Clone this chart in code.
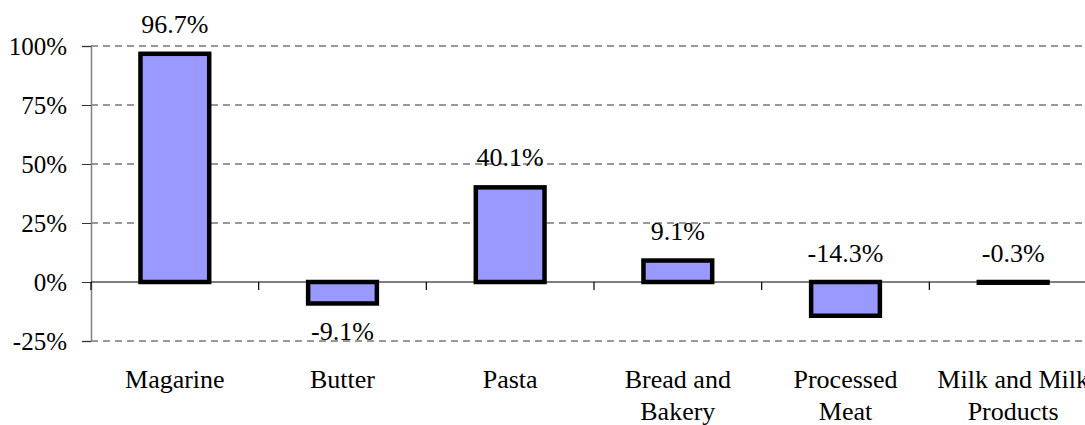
<!DOCTYPE html>
<html>
<head>
<meta charset="utf-8">
<script src="https://cdn.jsdelivr.net/npm/d3@7"></script>
<style>
  body { margin: 0; background: #fff; }
  svg { display: block; }
</style>
</head>
<body>
<div class="chart"></div>
<script>
// chart data
const categories = [
  ["Magarine"],
  ["Butter"],
  ["Pasta"],
  ["Bread and", "Bakery"],
  ["Processed", "Meat"],
  ["Milk and Milk", "Products"],
];
const values = [96.7, -9.1, 40.1, 9.1, -14.3, -0.3];
const labelSide = ["end", "end", "end", "end", "zero", "zero"];
const yTicks = [-25, 0, 25, 50, 75, 100];

const width = 1085;
const height = 425;
const margin = { top: 46, right: -12, bottom: 84, left: 91 };
const font = "'Liberation Serif'";
const fontSize = "26px";

const svg = d3
  .select(".chart")
  .append("svg")
  .attr("width", width)
  .attr("height", height);

const x = d3
  .scaleBand()
  .domain(d3.range(categories.length))
  .range([margin.left, width - margin.right])
  .paddingInner(0.59)
  .paddingOuter(0.295);

const y = d3
  .scaleLinear()
  .domain([-25, 100])
  .range([height - margin.bottom, margin.top]);

// dashed gridlines
svg
  .append("g")
  .selectAll("line")
  .data(yTicks.filter((t) => t !== 0))
  .join("line")
  .attr("x1", margin.left)
  .attr("x2", width)
  .attr("y1", (d) => y(d))
  .attr("y2", (d) => y(d))
  .attr("stroke", "#333")
  .attr("stroke-width", 1)
  .attr("stroke-dasharray", "7,5");

// y axis
const yAxis = svg
  .append("g")
  .attr("transform", `translate(${margin.left},0)`)
  .call(
    d3
      .axisLeft(y)
      .tickValues(yTicks)
      .tickSize(9)
      .tickPadding(15)
      .tickFormat((d) => d + "%")
  );
yAxis.select(".domain").attr("stroke", "#808080").attr("stroke-width", 1.5);
yAxis.selectAll(".tick line").attr("stroke", "#333");
yAxis
  .selectAll(".tick text")
  .attr("dy", "0.34em")
  .attr("fill", "#000")
  .style("font-family", font)
  .style("font-size", "25px");

// bars
svg
  .append("g")
  .selectAll("rect")
  .data(values)
  .join("rect")
  .attr("x", (d, i) => x(i))
  .attr("width", x.bandwidth())
  .attr("y", (d) => y(Math.max(0, d)))
  .attr("height", (d) => Math.abs(y(d) - y(0)))
  .attr("fill", "#9999ff")
  .attr("stroke", "#000")
  .attr("stroke-width", 4.5);

// zero line and category ticks
svg
  .append("line")
  .attr("x1", margin.left)
  .attr("x2", width)
  .attr("y1", y(0))
  .attr("y2", y(0))
  .attr("stroke", "#000")
  .attr("stroke-width", 1);

const step = x.step();
svg
  .append("g")
  .selectAll("line")
  .data(d3.range(categories.length + 1))
  .join("line")
  .attr("x1", (i) => margin.left + i * step)
  .attr("x2", (i) => margin.left + i * step)
  .attr("y1", y(0))
  .attr("y2", y(0) + 8)
  .attr("stroke", "#000")
  .attr("stroke-width", 1.2);

// value labels
svg
  .append("g")
  .selectAll("text")
  .data(values)
  .join("text")
  .attr("x", (d, i) => x(i) + x.bandwidth() / 2)
  .attr("y", (d, i) => {
    if (labelSide[i] === "zero") return y(0) - 20;
    return d >= 0 ? y(d) - 21 : y(d) + 37;
  })
  .attr("text-anchor", "middle")
  .style("font-family", font)
  .style("font-size", fontSize)
  .text((d) => d.toFixed(1) + "%");

// category labels
const catLabels = svg
  .append("g")
  .selectAll("text")
  .data(categories)
  .join("text")
  .attr("x", (d, i) => x(i) + x.bandwidth() / 2)
  .attr("y", 388)
  .attr("text-anchor", "middle")
  .style("font-family", font)
  .style("font-size", fontSize);

catLabels
  .selectAll("tspan")
  .data((d) => d)
  .join("tspan")
  .attr("x", function () {
    return this.parentNode.getAttribute("x");
  })
  .attr("dy", (d, j) => (j === 0 ? 0 : 32))
  .text((d) => d);
</script>
</body>
</html>
